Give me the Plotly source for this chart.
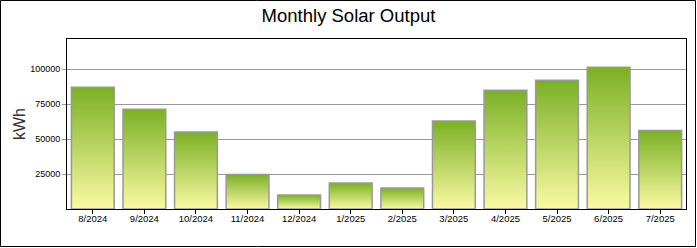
import plotly.graph_objects as go

months = ["8/2024", "9/2024", "10/2024", "11/2024", "12/2024", "1/2025",
          "2/2025", "3/2025", "4/2025", "5/2025", "6/2025", "7/2025"]
output_kwh = [87100, 71400, 55000, 24700, 10000, 18600,
              15000, 62900, 85000, 92100, 101400, 56100]
y_ticks = [25000, 50000, 75000, 100000]

BAR_W = 0.83
FONT = "Liberation Sans, Arial, sans-serif"

fig = go.Figure()
for i, (m, v) in enumerate(zip(months, output_kwh)):
    x0, x1 = i - BAR_W / 2, i + BAR_W / 2
    fig.add_trace(go.Scatter(
        x=[x0, x0, x1, x1, x0],
        y=[0, v, v, 0, 0],
        mode="lines",
        fill="toself",
        fillgradient=dict(type="vertical",
                          colorscale=[[0, "#fafaa2"], [1, "#7bb026"]]),
        line=dict(color="#999999", width=1.5),
        name=m,
        showlegend=False,
        hoverinfo="skip",
    ))

fig.update_layout(
    width=697, height=248,
    margin=dict(l=67, r=11, t=39, b=39),
    paper_bgcolor="white", plot_bgcolor="white",
    font=dict(family=FONT, color="black", size=9),
    title=dict(text="Monthly Solar Output", x=0.5, xanchor="center",
               xref="container", yref="container", y=1 - 16 / 248, yanchor="middle",
               font=dict(family=FONT, size=18.5, color="black")),
    showlegend=False,
)
fig.update_xaxes(
    range=[-0.5, len(months) - 0.5],
    tickmode="array", tickvals=list(range(len(months))), ticktext=months,
    ticks="outside", ticklen=4, tickcolor="black", tickwidth=1,
    ticklabelstandoff=-3,
    showgrid=False, zeroline=False,
    showline=True, linecolor="black", linewidth=1, mirror=True,
    tickfont=dict(family=FONT, size=9.5, color="black"),
)
fig.update_yaxes(
    range=[0, 121600],
    tickmode="array", tickvals=y_ticks, tickformat="d",
    ticks="outside", ticklen=4, tickcolor="#999999", tickwidth=1,
    showgrid=True, gridcolor="#999999", gridwidth=1, zeroline=False,
    showline=True, linecolor="black", linewidth=1, mirror=True,
    tickfont=dict(family=FONT, size=9, color="black"),
    title=dict(text="kWh", standoff=0, font=dict(family=FONT, size=16, color="#333333")),
)

# outer frame around the whole picture
pw, ph = 697 - 67 - 11, 248 - 39 - 39
fig.add_shape(type="rect", xref="paper", yref="paper",
              x0=(0.5 - 67) / pw, x1=(695.5 - 67) / pw,
              y0=(209 - 246.5) / ph, y1=(209 - 0.5) / ph,
              line=dict(color="black", width=1), fillcolor="rgba(0,0,0,0)")

fig.write_html("out.html")
